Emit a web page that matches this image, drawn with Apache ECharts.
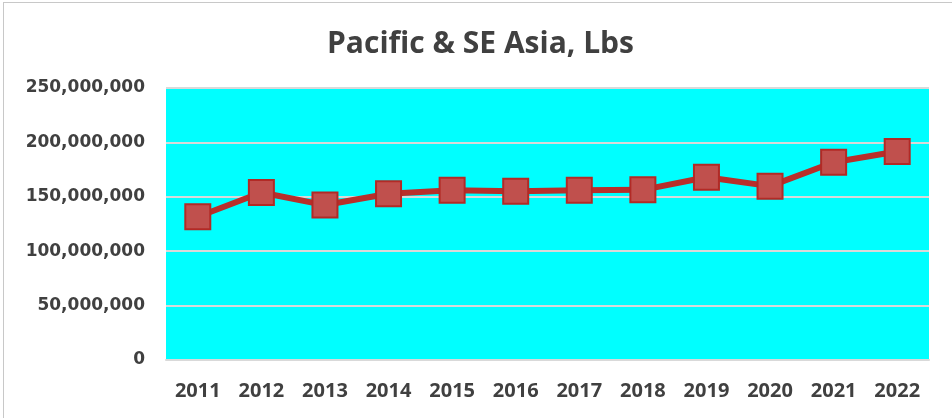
<!DOCTYPE html>
<html>
<head>
<meta charset="utf-8">
<script src="https://cdn.jsdelivr.net/npm/echarts@6/dist/echarts.min.js"></script>
<style>
  html, body { margin: 0; padding: 0; background: #fff; }
  #frame { position: absolute; left: 3px; top: 2px; width: 960px; height: 430px; border: 1px solid #c8c8c8; box-sizing: border-box; }
  #chart { position: absolute; left: 0; top: 0; width: 952px; height: 418px; }
</style>
</head>
<body>
<div id="frame"></div>
<div id="chart"></div>
<script>
// 年份和数值
var years = ['2011', '2012', '2013', '2014', '2015', '2016', '2017', '2018', '2019', '2020', '2021', '2022'];
var lbs = [131700000, 154000000, 142400000, 152800000, 156100000, 155200000, 156100000, 156400000, 168000000, 159800000, 181800000, 191600000];
var yTicks = [0, 50000000, 100000000, 150000000, 200000000, 250000000];

var myChart = echarts.init(document.getElementById('chart'));
var options = {
    backgroundColor: 'transparent',
    animation: false,
    title: {
        text: 'Pacific & SE Asia, Lbs',
        left: 322,
        top: 24,
        textStyle: {
            fontFamily: 'Open Sans',
            fontSize: 30,
            fontWeight: 'bold',
            color: '#404040'
        }
    },
    grid: {
        left: 166,
        right: 23,
        top: 88,
        bottom: 58,
        show: true,
        backgroundColor: '#00ffff',
        borderWidth: 0
    },
    xAxis: {
        type: 'category',
        data: years,
        boundaryGap: true,
        axisLine: { show: true, lineStyle: { color: '#d9d9d9', width: 2 } },
        axisTick: { show: false },
        axisLabel: {
            margin: 21,
            fontFamily: 'Open Sans',
            fontSize: 20,
            fontWeight: 'bold',
            color: '#404040'
        }
    },
    yAxis: {
        type: 'value',
        min: yTicks[0],
        max: yTicks[yTicks.length - 1],
        interval: 50000000,
        axisLine: { show: false },
        axisTick: { show: false },
        splitLine: { lineStyle: { color: '#d9d9d9', width: 2 } },
        axisLabel: {
            margin: 21,
            fontFamily: 'DejaVu Sans',
            fontSize: 17,
            fontWeight: 'bold',
            color: '#404040',
            formatter: function (v) { return v.toLocaleString('en-US'); }
        }
    },
    series: [
        {
            name: 'Lbs',
            type: 'line',
            data: lbs,
            symbol: 'rect',
            symbolSize: 25,
            lineStyle: { color: '#b82f2b', width: 6 },
            itemStyle: { color: '#c0504d', borderColor: '#b22a26', borderWidth: 2 }
        }
    ]
};
myChart.setOption(options);
</script>
</body>
</html>
